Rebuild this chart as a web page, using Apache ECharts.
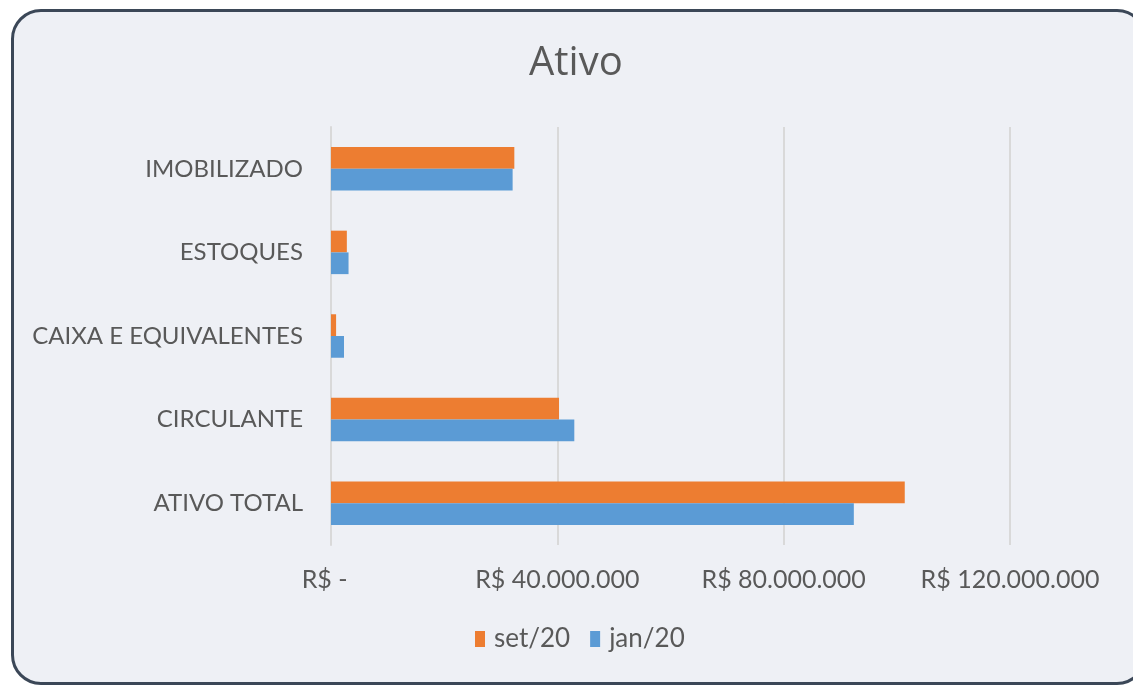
<!DOCTYPE html>
<html>
<head>
<meta charset="utf-8">
<script src="https://cdn.jsdelivr.net/npm/echarts@6/dist/echarts.min.js"></script>
<style>
  html, body { margin: 0; padding: 0; background: #ffffff; overflow: hidden; }
  #frame {
    position: absolute; left: 11px; top: 9px; width: 1130px; height: 670px;
    border: 3px solid #3b4757; border-radius: 30px; background: #eef0f5;
  }
  #chart { position: absolute; left: 0; top: 0; width: 1133px; height: 685px; }
</style>
</head>
<body>
<div id="frame"></div>
<div id="chart"></div>
<script>
// categories listed bottom to top (ECharts category y axis starts at the bottom)
const categories = ['ATIVO TOTAL', 'CIRCULANTE', 'CAIXA E EQUIVALENTES', 'ESTOQUES', 'IMOBILIZADO'];
const setValues = [101400000, 40300000, 900000, 2800000, 32400000];
const janValues = [92400000, 43000000, 2300000, 3100000, 32100000];
const tickValues = [0, 40000000, 80000000, 120000000];

const labelFont = 'Lato, "Open Sans", sans-serif';

function formatBRL(value) {
    if (value === 0) return 'R$ -  ';
    return 'R$ ' + value.toLocaleString('de-DE');
}

const chart = echarts.init(document.getElementById('chart'), null, {renderer: 'canvas'});
chart.setOption({
    backgroundColor: 'transparent',
    animation: false,
    title: {
        text: 'Ativo',
        left: 524,
        top: 39,
        textStyle: {color: '#595959', fontSize: 40, fontWeight: 'normal', fontFamily: '"Open Sans", sans-serif'}
    },
    legend: {
        bottom: 28,
        left: 470,
        itemWidth: 10,
        itemHeight: 16,
        itemGap: 20,
        icon: 'rect',
        textStyle: {color: '#595959', fontSize: 26, fontFamily: labelFont, padding: [0, 0, 0, 4]},
        data: ['set/20', 'jan/20']
    },
    grid: {left: 331, right: 123, top: 127, bottom: 140},
    xAxis: {
        type: 'value',
        min: 0,
        max: tickValues[tickValues.length - 1],
        interval: tickValues[1] - tickValues[0],
        axisLine: {show: false},
        axisTick: {show: false},
        splitLine: {lineStyle: {color: '#d9d9d9', width: 2}},
        axisLabel: {
            color: '#595959', fontSize: 25, fontFamily: labelFont, margin: 22,
            formatter: formatBRL
        }
    },
    yAxis: {
        type: 'category',
        data: categories,
        axisLine: {show: true, lineStyle: {color: '#d9d9d9', width: 2}},
        axisTick: {show: false},
        axisLabel: {color: '#595959', fontSize: 24, fontFamily: labelFont, margin: 28}
    },
    series: [
        {
            name: 'set/20',
            type: 'bar',
            data: setValues,
            itemStyle: {color: '#ed7d31'},
            barCategoryGap: '48%',
            barGap: '0%'
        },
        {
            name: 'jan/20',
            type: 'bar',
            data: janValues,
            itemStyle: {color: '#5b9bd5'},
            barCategoryGap: '48%',
            barGap: '0%'
        }
    ]
});
</script>
</body>
</html>
